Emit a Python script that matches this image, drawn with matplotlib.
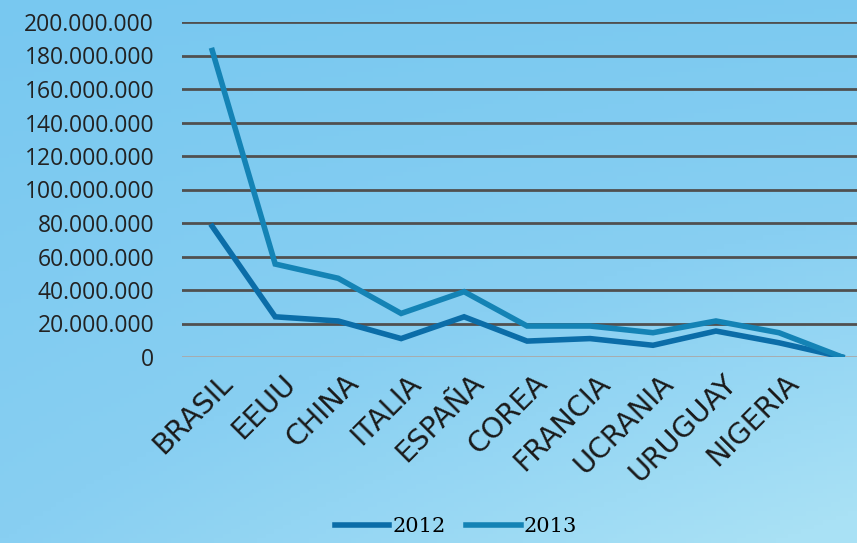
import numpy as np
import matplotlib.pyplot as plt
from matplotlib.colors import LinearSegmentedColormap
from matplotlib.transforms import ScaledTranslation

paises = ["BRASIL", "EEUU", "CHINA", "ITALIA", "ESPAÑA", "COREA",
          "FRANCIA", "UCRANIA", "URUGUAY", "NIGERIA", ""]
v2012 = [78e6, 24e6, 21.5e6, 11e6, 24e6, 9.5e6, 11e6, 7e6, 15.5e6, 8.5e6, 0]
v2013 = [183e6, 55.5e6, 47e6, 26e6, 39e6, 18.5e6, 18.5e6, 14.5e6, 21.5e6, 14.5e6, 0]
yticks = np.arange(0, 200e6 + 1, 20e6)

W, H = 857, 543
fig = plt.figure(figsize=(W / 100, H / 100), dpi=100)

# background gradient (photo of a slide)
bg = fig.add_axes([0, 0, 1, 1], zorder=-10)
bg.axis("off")
gx, gy = np.meshgrid(np.linspace(0, 1, 200), np.linspace(0, 1, 120))
grad = 0.55 * gy + 0.45 * gx * gy + 0.15 * gx
cmap = LinearSegmentedColormap.from_list("bgc", ["#78c8f0", "#88cff2", "#a9e1f5"])
bg.imshow(grad, cmap=cmap, aspect="auto", extent=[0, 1, 1, 0], vmin=0, vmax=1.1)
bg.set_xlim(0, 1)
bg.set_ylim(1, 0)

left, right = 182 / W, 1.0
bottom, top = 1 - 357 / H, 1 - 22 / H
ax = fig.add_axes([left, bottom, right - left, top - bottom])
ax.patch.set_alpha(0)
for s in ax.spines.values():
    s.set_visible(False)

x = np.arange(len(paises))
ax.set_xlim(-0.48, 10.24)
ax.set_ylim(0, 200e6)

for t in yticks:
    col = "#a9a9a9" if t == 0 else "#505050"
    ax.axhline(t, color=col, lw=2, zorder=1)

l12, = ax.plot(x, v2012, color="#0b6da8", lw=4, solid_joinstyle="miter", zorder=3)
l13, = ax.plot(x, v2013, color="#1483b5", lw=4, solid_joinstyle="miter", zorder=3)

ax.set_yticks(yticks)
ax.set_yticklabels(["0" if t == 0 else f"{int(t):,}".replace(",", ".") for t in yticks],
                   fontsize=16.5, color="#222222", family="Open Sans")
ax.tick_params(axis="y", length=0, pad=20)
ax.set_xticks(x)
ax.set_xticklabels(paises, rotation=45, ha="right", va="top", rotation_mode="anchor",
                   fontsize=20.5, color="#1a1a1a", family="DejaVu Sans")
ax.tick_params(axis="x", length=0, pad=0)
off = ScaledTranslation(6 / 100, -12 / 100, fig.dpi_scale_trans)
for lab in ax.get_xticklabels():
    lab.set_transform(lab.get_transform() + off)

fig.legend([l12, l13], ["2012", "2013"], loc="center", bbox_to_anchor=(456 / W, 1 - 527 / H),
           ncol=2, frameon=False, handlelength=2.6, handletextpad=0.15, columnspacing=1.0,
           prop={"family": "DejaVu Serif", "size": 15})

fig.savefig("out.png", dpi=100)
